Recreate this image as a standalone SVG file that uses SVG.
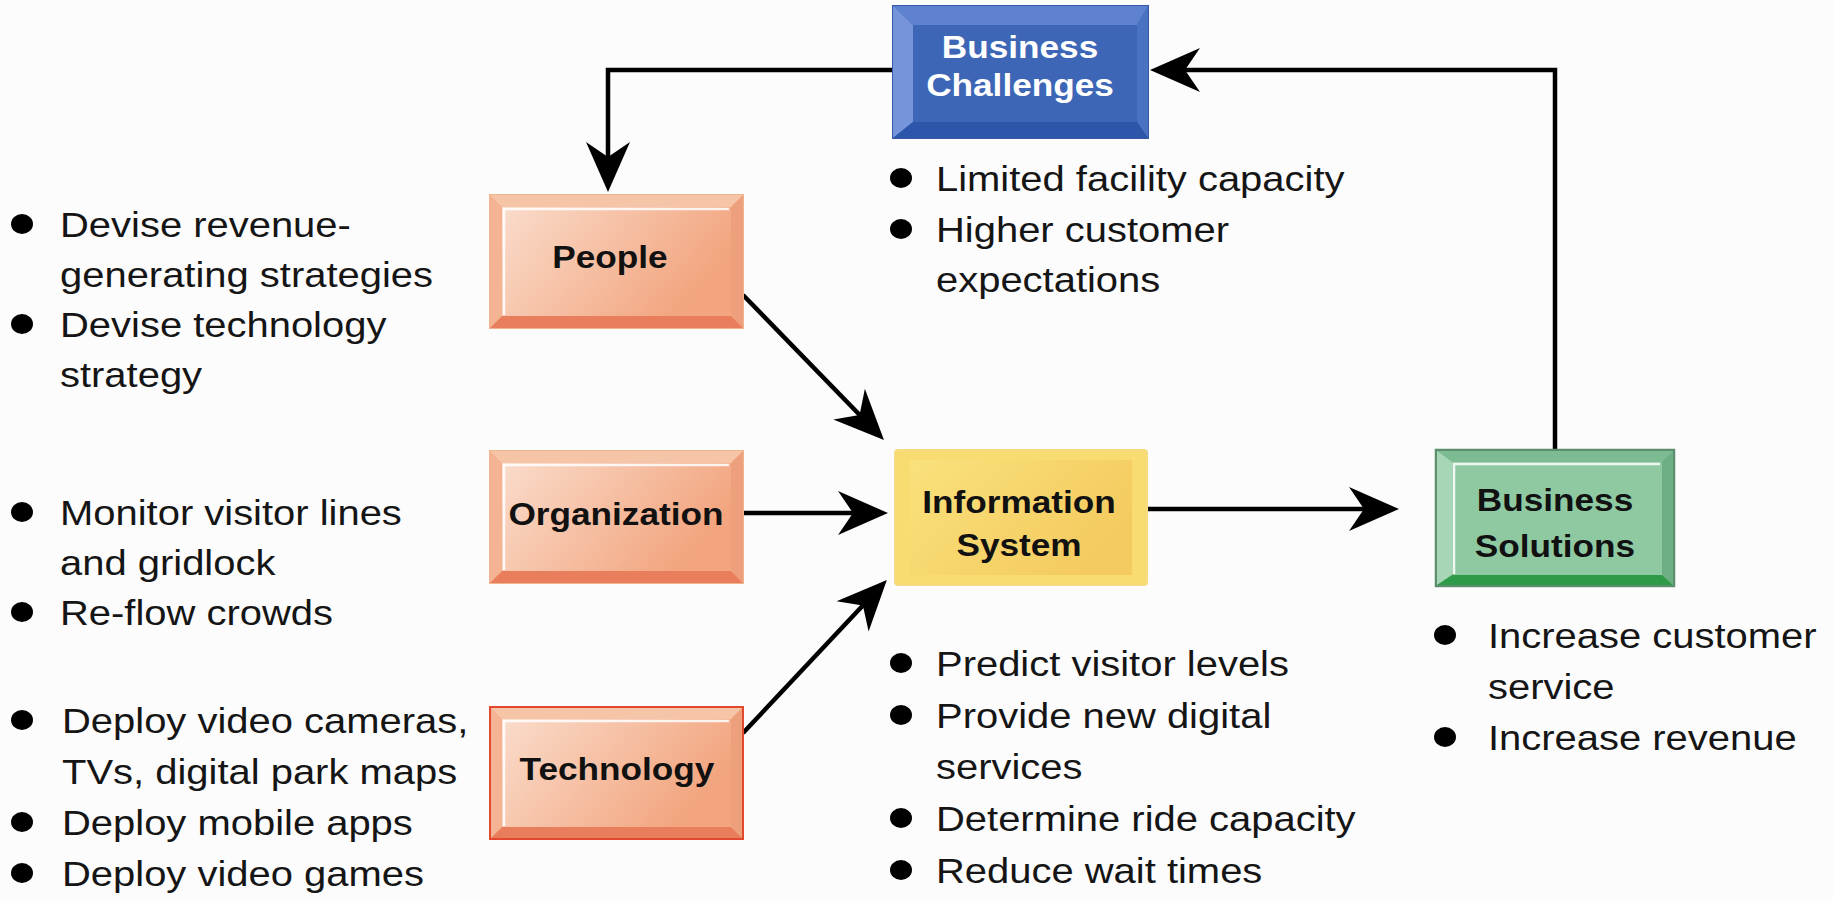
<svg xmlns="http://www.w3.org/2000/svg" width="1833" height="901" viewBox="0 0 1833 901">
<defs>
<style>
.t{font-family:"Liberation Sans",Arial,sans-serif;font-size:36px;fill:#151515}
.lb{font-family:"Liberation Sans",Arial,sans-serif;font-size:32px;font-weight:bold;text-anchor:middle;fill:#111}
.lbw{fill:#fff}
.con{fill:none;stroke:#000;stroke-width:4.5}
.bul{fill:#000}
.hl{fill:none;stroke:#fff;stroke-width:2.5;opacity:0.85}
</style>
<marker id="ah" markerUnits="userSpaceOnUse" markerWidth="52" markerHeight="46" viewBox="0 -23 50 46" refX="40" refY="0" orient="auto">
<path d="M0,-22 L50,0 L0,22 L15,0 Z" fill="#000"/>
</marker>
<linearGradient id="gOr" x1="0" y1="0" x2="1" y2="0.4">
<stop offset="0" stop-color="#fadccb"/>
<stop offset="1" stop-color="#f2a57f"/>
</linearGradient>
<linearGradient id="gYe" x1="0" y1="0" x2="1" y2="0.5">
<stop offset="0" stop-color="#fae17c"/>
<stop offset="1" stop-color="#f4cb5f"/>
</linearGradient>
</defs>
<rect width="1833" height="901" fill="#fcfcfc"/>

<g id="connectors">
<path class="con" d="M893,70 H608 V182" marker-end="url(#ah)"/>
<path class="con" d="M1555,450 V70 H1160" marker-end="url(#ah)"/>
<path class="con" d="M743,295 L877,432.8" marker-end="url(#ah)"/>
<path class="con" d="M743,513 H878" marker-end="url(#ah)"/>
<path class="con" d="M743,733 L880,587.3" marker-end="url(#ah)"/>
<path class="con" d="M1147,509 H1389" marker-end="url(#ah)"/>
</g>

<g id="business-challenges">
<rect x="893" y="6" width="255" height="132" fill="#3d67b6" stroke="#3459a8" stroke-width="2"/>
<polygon points="893,6 1148,6 1137,25 913,25" fill="#5f82d0"/>
<polygon points="893,6 913,25 913,122 893,138" fill="#7694da"/>
<polygon points="1148,6 1148,138 1137,122 1137,25" fill="#4a72c2"/>
<polygon points="893,138 1148,138 1137,122 913,122" fill="#2b56aa"/>
<rect x="913" y="25" width="224" height="97" fill="#3d67b6"/>
<g transform="translate(1020,0) scale(1.1,1)">
<text class="lb lbw" x="0" y="58">Business</text>
<text class="lb lbw" x="0" y="96">Challenges</text>
</g>
<g id="bc-list">
<ellipse class="bul" cx="901" cy="178" rx="11" ry="10"/>
<ellipse class="bul" cx="901" cy="229" rx="11" ry="10"/>
<g transform="translate(936,0) scale(1.11,1)">
<text class="t" x="0" y="191">Limited facility capacity</text>
<text class="t" x="0" y="242">Higher customer</text>
<text class="t" x="0" y="292">expectations</text>
</g>
</g>
</g>

<g id="people">
<rect x="490" y="195" width="253" height="133" fill="#f4b896" stroke="#f2b48c" stroke-width="2"/>
<polygon points="490,195 743,195 731,207 502,207" fill="#f6c4a6"/>
<polygon points="490,195 502,207 502,316 490,328" fill="#f4b493"/>
<polygon points="743,195 743,328 731,316 731,207" fill="#eea07c"/>
<polygon points="490,328 743,328 731,316 502,316" fill="#e97e5c"/>
<rect x="502" y="207" width="229" height="109" fill="url(#gOr)"/>
<polyline class="hl" points="504,315 504,209 729,209"/>
<g transform="translate(610,0) scale(1.1,1)"><text class="lb" x="0" y="268">People</text></g>
</g>

<g id="organization">
<rect x="490" y="451" width="253" height="132" fill="#f4b896" stroke="#f2b48c" stroke-width="2"/>
<polygon points="490,451 743,451 731,463 502,463" fill="#f6c4a6"/>
<polygon points="490,451 502,463 502,571 490,583" fill="#f4b493"/>
<polygon points="743,451 743,583 731,571 731,463" fill="#eea07c"/>
<polygon points="490,583 743,583 731,571 502,571" fill="#e97e5c"/>
<rect x="502" y="463" width="229" height="108" fill="url(#gOr)"/>
<polyline class="hl" points="504,570 504,465 729,465"/>
<g transform="translate(616,0) scale(1.1,1)"><text class="lb" x="0" y="525">Organization</text></g>
</g>

<g id="technology">
<rect x="490" y="707" width="253" height="132" fill="#f4b896" stroke="#e3492f" stroke-width="2"/>
<polygon points="491,708 742,708 731,719 502,719" fill="#f6c4a6"/>
<polygon points="491,708 502,719 502,827 491,838" fill="#f4b493"/>
<polygon points="742,708 742,838 731,827 731,719" fill="#eea07c"/>
<polygon points="491,838 742,838 731,827 502,827" fill="#e97e5c"/>
<rect x="502" y="719" width="229" height="108" fill="url(#gOr)"/>
<polyline class="hl" points="504,826 504,721 729,721"/>
<g transform="translate(617,0) scale(1.1,1)"><text class="lb" x="0" y="780">Technology</text></g>
</g>

<g id="information-system">
<rect x="895" y="450" width="252" height="135" rx="3" fill="#f8dc72" stroke="#f6dc80" stroke-width="2"/>
<rect x="910" y="460" width="222" height="115" fill="url(#gYe)"/>
<g transform="translate(1019,0) scale(1.1,1)">
<text class="lb" x="0" y="513">Information</text>
<text class="lb" x="0" y="556">System</text>
</g>
<g id="is-list">
<ellipse class="bul" cx="901" cy="663" rx="11" ry="10"/>
<ellipse class="bul" cx="901" cy="715" rx="11" ry="10"/>
<ellipse class="bul" cx="901" cy="818" rx="11" ry="10"/>
<ellipse class="bul" cx="901" cy="870" rx="11" ry="10"/>
<g transform="translate(936,0) scale(1.11,1)">
<text class="t" x="0" y="676">Predict visitor levels</text>
<text class="t" x="0" y="728">Provide new digital</text>
<text class="t" x="0" y="779">services</text>
<text class="t" x="0" y="831">Determine ride capacity</text>
<text class="t" x="0" y="883">Reduce wait times</text>
</g>
</g>
</g>

<g id="business-solutions">
<rect x="1436" y="450" width="238" height="136" fill="#8ec8a0" stroke="#5d8f6f" stroke-width="2.5"/>
<polygon points="1437,451 1673,451 1662,462 1452,462" fill="#7dbb92"/>
<polygon points="1437,451 1452,462 1452,575 1437,585" fill="#a6d6b5"/>
<polygon points="1673,451 1673,585 1662,575 1662,462" fill="#6eae84"/>
<polygon points="1437,585 1673,585 1662,575 1452,575" fill="#2f9a48"/>
<rect x="1452" y="462" width="210" height="113" fill="#8fc9a2"/>
<polyline class="hl" points="1454,574 1454,464 1660,464"/>
<g transform="translate(1555,0) scale(1.1,1)">
<text class="lb" x="0" y="511">Business</text>
<text class="lb" x="0" y="557">Solutions</text>
</g>
<g id="bs-list">
<ellipse class="bul" cx="1445" cy="635" rx="11" ry="10"/>
<ellipse class="bul" cx="1445" cy="737" rx="11" ry="10"/>
<g transform="translate(1488,0) scale(1.11,1)">
<text class="t" x="0" y="648">Increase customer</text>
<text class="t" x="0" y="699">service</text>
<text class="t" x="0" y="750">Increase revenue</text>
</g>
</g>
</g>

<g id="people-list">
<ellipse class="bul" cx="22" cy="224" rx="11" ry="10"/>
<ellipse class="bul" cx="22" cy="324" rx="11" ry="10"/>
<g transform="translate(60,0) scale(1.11,1)">
<text class="t" x="0" y="237">Devise revenue-</text>
<text class="t" x="0" y="287">generating strategies</text>
<text class="t" x="0" y="337">Devise technology</text>
<text class="t" x="0" y="387">strategy</text>
</g>
</g>

<g id="organization-list">
<ellipse class="bul" cx="22" cy="512" rx="11" ry="10"/>
<ellipse class="bul" cx="22" cy="612" rx="11" ry="10"/>
<g transform="translate(60,0) scale(1.11,1)">
<text class="t" x="0" y="525">Monitor visitor lines</text>
<text class="t" x="0" y="575">and gridlock</text>
<text class="t" x="0" y="625">Re-flow crowds</text>
</g>
</g>

<g id="technology-list">
<ellipse class="bul" cx="22" cy="720" rx="11" ry="10"/>
<ellipse class="bul" cx="22" cy="822" rx="11" ry="10"/>
<ellipse class="bul" cx="22" cy="873" rx="11" ry="10"/>
<g transform="translate(62,0) scale(1.11,1)">
<text class="t" x="0" y="733">Deploy video cameras,</text>
<text class="t" x="0" y="784">TVs, digital park maps</text>
<text class="t" x="0" y="835">Deploy mobile apps</text>
<text class="t" x="0" y="886">Deploy video games</text>
</g>
</g>
</svg>
